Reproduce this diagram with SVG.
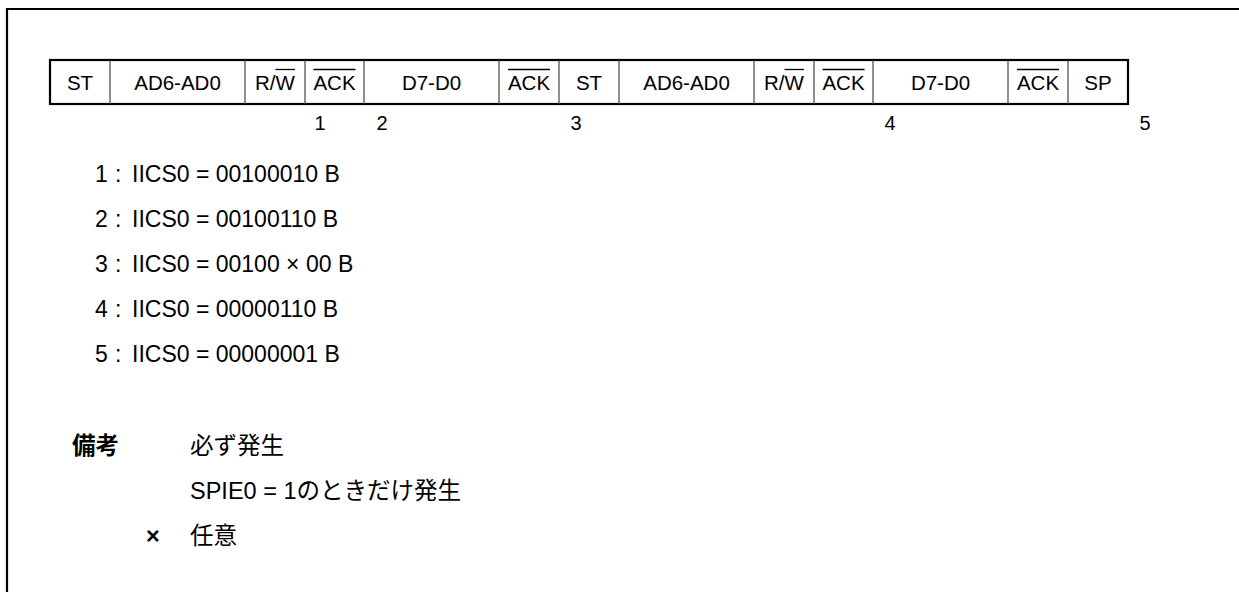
<svg xmlns="http://www.w3.org/2000/svg" width="1239" height="592" viewBox="0 0 1239 592">
<style>
text{font-family:"Liberation Sans","Noto Sans CJK JP",sans-serif;fill:#000}
.lbl{font-size:20.5px;text-anchor:middle}
.num{font-size:20px;text-anchor:middle}
.lst{font-size:23px}
.cjk{font-size:23.5px}
.bold{font-weight:bold}
.sep{stroke:#444;stroke-width:1.2}
.ovl{stroke:#000;stroke-width:1.3}
</style>
<rect width="1239" height="592" fill="#fff"/>
<path d="M7,592 V9 H1239" fill="none" stroke="#000" stroke-width="2.2"/>
<g id="frame-bar">
<rect x="50" y="60" width="1078" height="44" fill="#fff" stroke="#000" stroke-width="2.2"/>
<g id="separators">
<line class="sep" x1="110" y1="60" x2="110" y2="104"/>
<line class="sep" x1="245" y1="60" x2="245" y2="104"/>
<line class="sep" x1="305" y1="60" x2="305" y2="104"/>
<line class="sep" x1="364" y1="60" x2="364" y2="104"/>
<line class="sep" x1="499" y1="60" x2="499" y2="104"/>
<line class="sep" x1="559" y1="60" x2="559" y2="104"/>
<line class="sep" x1="619" y1="60" x2="619" y2="104"/>
<line class="sep" x1="754" y1="60" x2="754" y2="104"/>
<line class="sep" x1="814" y1="60" x2="814" y2="104"/>
<line class="sep" x1="873" y1="60" x2="873" y2="104"/>
<line class="sep" x1="1008" y1="60" x2="1008" y2="104"/>
<line class="sep" x1="1068" y1="60" x2="1068" y2="104"/>
</g>
<g id="cell-st1"><text class="lbl" x="80" y="90">ST</text></g>
<g id="cell-addr1"><text class="lbl" x="177.5" y="90">AD6-AD0</text></g>
<g id="cell-rw1"><text class="lbl" x="275" y="90">R/W</text><line class="ovl" x1="275.5" y1="69.5" x2="295" y2="69.5"/></g>
<g id="cell-ack1"><text class="lbl" x="334.5" y="90">ACK</text><line class="ovl" x1="313.5" y1="69.5" x2="355.5" y2="69.5"/></g>
<g id="cell-data1"><text class="lbl" x="431.5" y="90">D7-D0</text></g>
<g id="cell-ack2"><text class="lbl" x="529" y="90">ACK</text><line class="ovl" x1="508" y1="69.5" x2="550" y2="69.5"/></g>
<g id="cell-st2"><text class="lbl" x="589" y="90">ST</text></g>
<g id="cell-addr2"><text class="lbl" x="686.5" y="90">AD6-AD0</text></g>
<g id="cell-rw2"><text class="lbl" x="784" y="90">R/W</text><line class="ovl" x1="784.5" y1="69.5" x2="804" y2="69.5"/></g>
<g id="cell-ack3"><text class="lbl" x="843.5" y="90">ACK</text><line class="ovl" x1="822.5" y1="69.5" x2="864.5" y2="69.5"/></g>
<g id="cell-data2"><text class="lbl" x="940.5" y="90">D7-D0</text></g>
<g id="cell-ack4"><text class="lbl" x="1038" y="90">ACK</text><line class="ovl" x1="1017" y1="69.5" x2="1059" y2="69.5"/></g>
<g id="cell-sp"><text class="lbl" x="1098" y="90">SP</text></g>
</g>
<g id="markers">
<text class="num" x="320" y="130">1</text>
<text class="num" x="382" y="130">2</text>
<text class="num" x="576" y="130">3</text>
<text class="num" x="890" y="130">4</text>
<text class="num" x="1145" y="130">5</text>
</g>
<g id="legend-list">
<text class="lst" x="95" y="182">1</text><text class="lst" x="115" y="182">:</text><text class="lst" x="132" y="182">IICS0 = 00100010 B</text>
<text class="lst" x="95" y="227">2</text><text class="lst" x="115" y="227">:</text><text class="lst" x="132" y="227">IICS0 = 00100110 B</text>
<text class="lst" x="95" y="272">3</text><text class="lst" x="115" y="272">:</text><text class="lst" x="132" y="272">IICS0 = 00100 × 00 B</text>
<text class="lst" x="95" y="317">4</text><text class="lst" x="115" y="317">:</text><text class="lst" x="132" y="317">IICS0 = 00000110 B</text>
<text class="lst" x="95" y="362">5</text><text class="lst" x="115" y="362">:</text><text class="lst" x="132" y="362">IICS0 = 00000001 B</text>
</g>
<g id="remarks">
<text class="cjk bold" x="72" y="454">備考</text>
<text class="cjk" x="190" y="454">必ず発生</text>
<text class="cjk" x="190" y="499">SPIE0 = 1のときだけ発生</text>
<text class="cjk bold" x="146" y="544">×</text>
<text class="cjk" x="190" y="544">任意</text>
</g>
</svg>
